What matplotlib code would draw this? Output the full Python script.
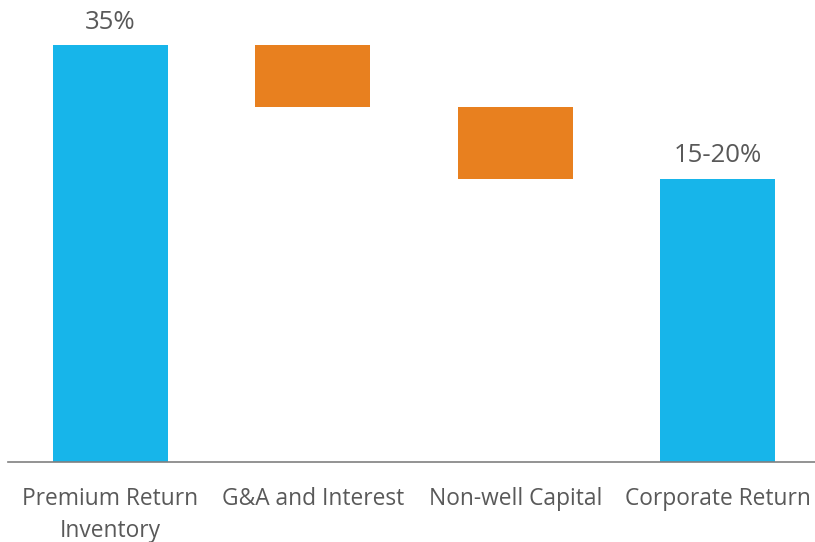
import matplotlib.pyplot as plt

plt.rcParams['font.family'] = ['Open Sans', 'DejaVu Sans']

categories = ['Premium Return\nInventory', 'G&A and Interest', 'Non-well Capital', 'Corporate Return']
changes = [35.0, -5.2, -6.0, 23.8]
kinds = ['total', 'delta', 'delta', 'total']
labels = ['35%', '', '', '15-20%']

blue = '#17B5EA'
orange = '#E8801F'
txt = '#595959'

fig = plt.figure(figsize=(8.15, 5.42), dpi=100)
ax = fig.add_axes([8 / 815, 80 / 542, 810 / 815, 462 / 542])

level = 0.0
for i, (v, k) in enumerate(zip(changes, kinds)):
    if k == 'total':
        ax.bar(i, v, width=0.57, color=blue)
        level = v
        top = v
    else:
        ax.bar(i, -v, bottom=level + v, width=0.57, color=orange)
        level = level + v
        top = level - v
    if labels[i]:
        ax.text(i, top + 0.9, labels[i], ha='center', va='bottom', fontsize=18.5, color=txt)

ax.set_xlim(-0.505, 3.495)
ax.set_ylim(0, 38.8)
ax.set_xticks(range(len(categories)))
ax.set_xticklabels(categories, fontsize=16.4, color=txt, linespacing=1.45)
ax.tick_params(axis='x', length=0, pad=18)
ax.set_yticks([])
for s in ['top', 'right', 'left']:
    ax.spines[s].set_visible(False)
ax.spines['bottom'].set_color('#808080')
ax.spines['bottom'].set_linewidth(1.2)

fig.savefig('out.png')
